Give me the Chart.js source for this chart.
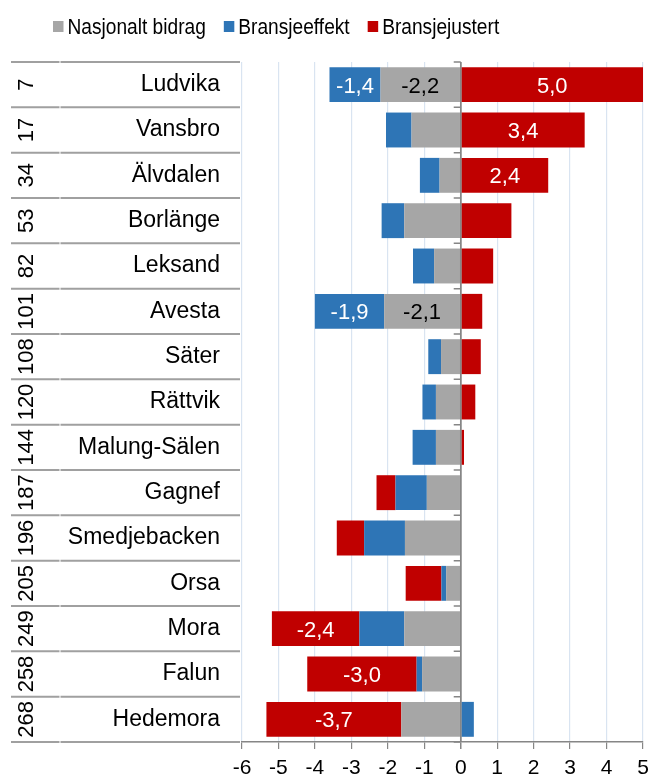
<!DOCTYPE html>
<html>
<head>
<meta charset="utf-8">
<script src="https://cdn.jsdelivr.net/npm/chart.js@4.4.1/dist/chart.umd.min.js"></script>
<style>
  html, body { margin: 0; padding: 0; background: #ffffff; }
  canvas { display: block; }
</style>
</head>
<body>
<canvas id="chart" width="649" height="780"></canvas>
<script>
// Kommuner i Dalarna, sortert etter rangering
const cities = ['Ludvika', 'Vansbro', 'Älvdalen', 'Borlänge', 'Leksand', 'Avesta', 'Säter', 'Rättvik',
  'Malung-Sälen', 'Gagnef', 'Smedjebacken', 'Orsa', 'Mora', 'Falun', 'Hedemora'];
const ranks = [7, 17, 34, 53, 82, 101, 108, 120, 144, 187, 196, 205, 249, 258, 268];

// Dekomponering (prosentpoeng)
const nasjonaltBidrag = [-2.2, -1.35, -0.58, -1.55, -0.73, -2.1, -0.54, -0.68, -0.68, -0.93, -1.53, -0.40, -1.55, -1.06, -1.63];
const bransjeeffekt   = [-1.4, -0.7, -0.54, -0.62, -0.58, -1.9, -0.35, -0.37, -0.64, -0.86, -1.12, -0.13, -1.23, -0.15, 0.36];
const bransjejustert  = [5.0, 3.4, 2.4, 1.39, 0.89, 0.59, 0.55, 0.40, 0.09, -0.52, -0.75, -0.98, -2.4, -3.0, -3.7];

// Hvilke segmenter som får verdietikett (indekser)
const labelNasjonalt = [0, 5];
const labelBransje = [0, 5];
const labelJustert = [0, 1, 2, 12, 13, 14];

const xTicks = [-6, -5, -4, -3, -2, -1, 0, 1, 2, 3, 4, 5];

const FONT = '"Liberation Sans", Arial, sans-serif';
const GRAY = '#a6a6a6', BLUE = '#2e75b6', RED = '#c00000';
const AXIS = '#868686';

const fmt = v => v.toFixed(1).replace('.', ',');

const decorations = {
  id: 'decorations',
  afterDatasetsDraw(chart) {
    const ctx = chart.ctx;
    const area = chart.chartArea;
    const xs = chart.scales.x, ys = chart.scales.y;
    const n = cities.length;
    const rowH = (area.bottom - area.top) / n;
    const x0 = xs.getPixelForValue(0);

    ctx.save();
    // nullinje med kategorimerker
    ctx.strokeStyle = AXIS;
    ctx.lineWidth = 1.5;
    ctx.beginPath();
    ctx.moveTo(x0, area.top);
    ctx.lineTo(x0, area.bottom);
    for (let k = 0; k <= n; k++) {
      const y = area.top + k * rowH;
      ctx.moveTo(x0 - 7, y);
      ctx.lineTo(x0, y);
    }
    ctx.stroke();

    // verdietiketter
    const labelSets = [labelNasjonalt, labelBransje, labelJustert];
    const labelColors = ['#000000', '#ffffff', '#ffffff'];
    ctx.font = '22px ' + FONT;
    ctx.textAlign = 'center';
    ctx.textBaseline = 'alphabetic';
    chart.data.datasets.forEach((ds, di) => {
      const meta = chart.getDatasetMeta(di);
      labelSets[di].forEach(i => {
        const bar = meta.data[i];
        const cx = (bar.x + bar.base) / 2;
        ctx.fillStyle = labelColors[di];
        ctx.fillText(fmt(ds.data[i]), cx, bar.y + 8);
      });
    });

    // tabell til venstre: skillelinjer og rangering
    ctx.strokeStyle = '#a0a0a0';
    ctx.lineWidth = 2;
    ctx.beginPath();
    for (let k = 0; k <= n; k++) {
      const y = area.top + k * rowH;
      ctx.moveTo(11, y); ctx.lineTo(59.5, y);
      ctx.moveTo(60.5, y); ctx.lineTo(240, y);
    }
    ctx.stroke();

    ctx.fillStyle = '#000000';
    ctx.font = '22px ' + FONT;
    ctx.textAlign = 'center';
    ctx.textBaseline = 'alphabetic';
    ranks.forEach((r, i) => {
      const y = ys.getPixelForValue(i);
      ctx.save();
      ctx.translate(33, y);
      ctx.rotate(-Math.PI / 2);
      ctx.fillText(String(r), 0, 0);
      ctx.restore();
    });

    // forklaring
    ctx.font = '22px ' + FONT;
    ctx.textAlign = 'left';
    const squeeze = 0.87;
    let x = 53;
    chart.data.datasets.forEach(ds => {
      ctx.fillStyle = ds.backgroundColor;
      ctx.fillRect(x, 21, 10.5, 11);
      const tx = x + 14.5;
      ctx.save();
      ctx.translate(tx, 34.3);
      ctx.scale(squeeze, 1);
      ctx.fillStyle = '#000000';
      ctx.fillText(ds.label, 0, 0);
      ctx.restore();
      x = tx + ctx.measureText(ds.label).width * squeeze + 18;
    });
    ctx.restore();
  }
};

new Chart(document.getElementById('chart'), {
  type: 'bar',
  data: {
    labels: cities,
    datasets: [
      { label: 'Nasjonalt bidrag', data: nasjonaltBidrag, backgroundColor: GRAY },
      { label: 'Bransjeeffekt', data: bransjeeffekt, backgroundColor: BLUE },
      { label: 'Bransjejustert', data: bransjejustert, backgroundColor: RED }
    ]
  },
  options: {
    indexAxis: 'y',
    responsive: false,
    devicePixelRatio: 1,
    animation: false,
    layout: { padding: { top: 62, right: 6, bottom: 0, left: 0 } },
    datasets: {
      bar: { barPercentage: 0.77, categoryPercentage: 1.0, borderWidth: 0 }
    },
    plugins: {
      legend: { display: false },
      tooltip: { enabled: false }
    },
    scales: {
      x: {
        stacked: true,
        min: -6,
        max: 5,
        afterBuildTicks: scale => { scale.ticks = xTicks.map(v => ({ value: v })); },
        afterFit: scale => {
          scale.height = 38;
          scale.paddingLeft = 0;
          scale.paddingRight = 0;
        },
        grid: {
          color: c => (c.tick && c.tick.value === 0) ? AXIS : '#d9e4f1',
          lineWidth: c => (c.tick && c.tick.value === 0) ? 1.5 : 1.2,
          tickColor: AXIS,
          tickLength: 7,
          drawTicks: true
        },
        border: { color: AXIS, width: 1.5 },
        ticks: {
          color: '#000000',
          font: { family: FONT, size: 21 },
          padding: 7,
          maxRotation: 0,
          callback: v => String(v)
        }
      },
      y: {
        stacked: true,
        afterFit: scale => { scale.width = 242; },
        grid: { display: false, drawTicks: false },
        border: { display: false },
        ticks: {
          color: '#000000',
          font: { family: FONT, size: 23 },
          crossAlign: 'near',
          padding: 22,
          autoSkip: false
        }
      }
    }
  },
  plugins: [decorations]
});
</script>
</body>
</html>
